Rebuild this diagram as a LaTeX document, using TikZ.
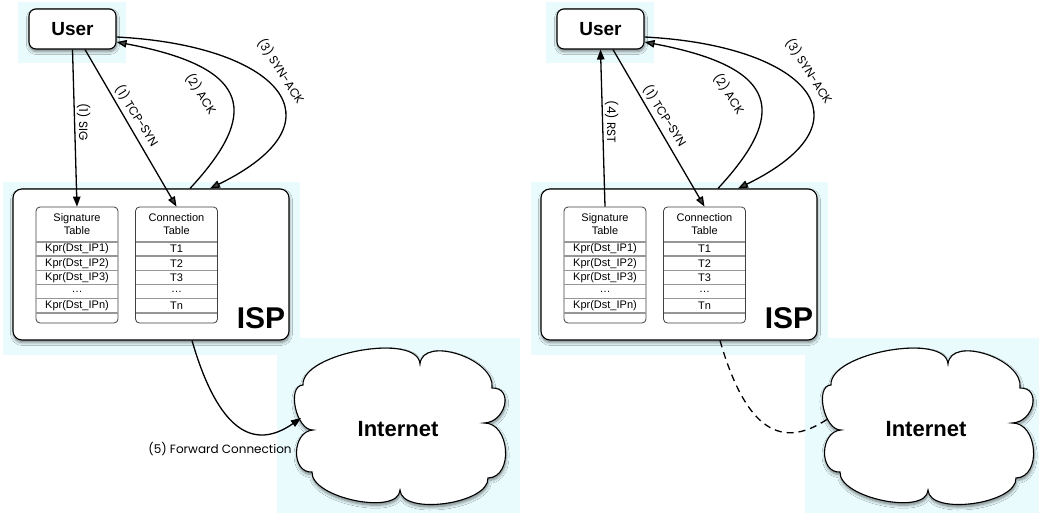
\documentclass[tikz,border=0pt]{standalone}
\usepackage{fontspec}
\setmainfont{Liberation Sans}
\newfontfamily\lblfont{Poppins}
\usetikzlibrary{arrows.meta,shadows.blur}

\definecolor{halo}{RGB}{233,251,253}
\definecolor{rowline}{RGB}{150,150,150}

\tikzset{
  halo/.style={fill=halo, draw=none},
  boxshadow/.style={blur shadow={shadow xshift=0.5pt, shadow yshift=-2.5pt,
      shadow opacity=50, shadow blur radius=3pt, shadow blur steps=6}},
  userbox/.style={draw=black, line width=1.1pt, fill=white, rounded corners=7pt,
      minimum width=87pt, minimum height=40pt, inner sep=0pt,
      font=\fontsize{19}{22}\selectfont\bfseries, boxshadow},
  ispbox/.style={draw=black, line width=1.1pt, fill=white, rounded corners=9pt,
      minimum width=276pt, minimum height=151pt, inner sep=0pt, boxshadow},
  isplabel/.style={font=\fontsize{30}{34}\selectfont\bfseries, inner sep=0pt},
  tablebox/.style={draw=black!75, line width=0.8pt, fill=white, rounded corners=4pt,
      minimum width=82pt, minimum height=116pt, inner sep=0pt},
  tabhead/.style={align=center, font=\fontsize{11}{13}\selectfont, inner sep=0pt},
  tabcell/.style={font=\fontsize{11}{13}\selectfont, inner sep=0pt},
  rowsep/.style={draw=rowline, line width=1.4pt},
  cloudline/.style={draw=black, line width=1.1pt, fill=white, boxshadow},
  nettext/.style={font=\fontsize{22}{26}\selectfont\bfseries, inner sep=0pt},
  flow/.style={line width=1.3pt, -{Triangle[length=10pt,width=7.5pt]}},
  dashline/.style={line width=1.3pt, dash pattern=on 7pt off 5pt},
  lbl/.style={font=\lblfont\fontsize{12}{14}\selectfont, inner sep=0pt},
}

% one table column: #1 node prefix, #2 centre x, #3 header, #4 rows
\newcommand\tablecolumn[4]{%
  \node[tablebox] (#1) at (#2,265) {};
  \foreach \ry in {241.9,256.1,270.3,284.5,298.7,312.9}
    \draw[rowsep] (#2-40.6,\ry) -- (#2+40.6,\ry);
  \node[tabhead] (#1h) at (#2,224.5) {#3};
  \foreach \t [count=\i] in {#4}
    \node[tabcell] (#1r\i) at (#2,234.8+14.2*\i) {\t};
}

% the parts both panels share: #1 name suffix, #2 horizontal offset
\newcommand\netpanel[2]{%
  \begin{scope}[xshift=#2pt]
    \fill[halo] (18,2) rectangle (126,63);
    \fill[halo] (3,182) rectangle (300,355);
    \fill[halo] (277,338) rectangle (520,513);
    \node[userbox] (user#1) at (72.5,29) {User};
    \node[ispbox] (isp#1) at (151,264.5) {};
    \node[isplabel] (ispt#1) at (261,318) {ISP};
    \tablecolumn{sig#1}{77}{Signature\\Table}%
      {Kpr(Dst\_IP1),Kpr(Dst\_IP2),Kpr(Dst\_IP3),\ldots,Kpr(Dst\_IPn)}
    \tablecolumn{con#1}{176.5}{Connection\\Table}{T1,T2,T3,\ldots,Tn}
    % the Internet cloud, eight puffs
    \path[cloudline] (303,385)
      .. controls (301,353) and (418,332) .. (420,364)
      .. controls (422.7,335) and (496,359) .. (492,388)
      .. controls (514,387.3) and (506,422.3) .. (484,423)
      .. controls (510,422.3) and (514,477.3) .. (488,478)
      .. controls (489.3,504) and (401.3,516) .. (400,490)
      .. controls (398.7,516) and (310.7,498) .. (312,472)
      .. controls (290.7,473.3) and (291.7,431.3) .. (313,430)
      .. controls (296.3,430.7) and (286.3,385.7) .. cycle;
    \node[nettext] (net#1) at (398,429) {Internet};
    \coordinate (netin#1) at (301,418);
    % handshake between user and ISP
    \draw[flow] ([xshift=12.5pt]user#1.south) -- (con#1.north);
    \draw[flow] ([xshift=39pt]isp#1.north) .. controls (258,115) and (255,68) ..
      ([yshift=-13pt]user#1.east);
    \draw[flow] ([yshift=-8pt]user#1.east) .. controls (275,45) and (350,120) ..
      ([xshift=59pt]isp#1.north);
    \node[lbl, rotate=-58] (ltcp#1) at (137,116) {(1) TCP-SYN};
    \node[lbl, rotate=-57] (lack#1) at (201,94) {(2) ACK};
    \node[lbl, rotate=-57] (lsyn#1) at (281,71) {(3) SYN-ACK};
  \end{scope}
}

\begin{document}
\begin{tikzpicture}[x=1pt, y=-1pt]
  \useasboundingbox (0,0) rectangle (1039,523);
  \netpanel{L}{0}
  \netpanel{R}{528}
  % left: signature sent, connection forwarded
  \draw[flow] (userL.south) -- (sigL.north);
  \node[lbl, rotate=-90] (lsig) at (83.5,122) {(1) SIG};
  \draw[flow] ([xshift=41pt]ispL.south) .. controls (215,420) and (248,455) .. (netinL);
  \node[lbl] (lfwd) at (220,449) {(5) Forward Connection};
  % right: connection reset, no forwarding
  \draw[flow] (sigR.north) -- (userR.south);
  \node[lbl, rotate=-90] (lrst) at (611.5,122) {(4) RST};
  \draw[dashline] ([xshift=41pt]ispR.south) .. controls (743,420) and (776,455) .. (netinR);
\end{tikzpicture}
\end{document}
